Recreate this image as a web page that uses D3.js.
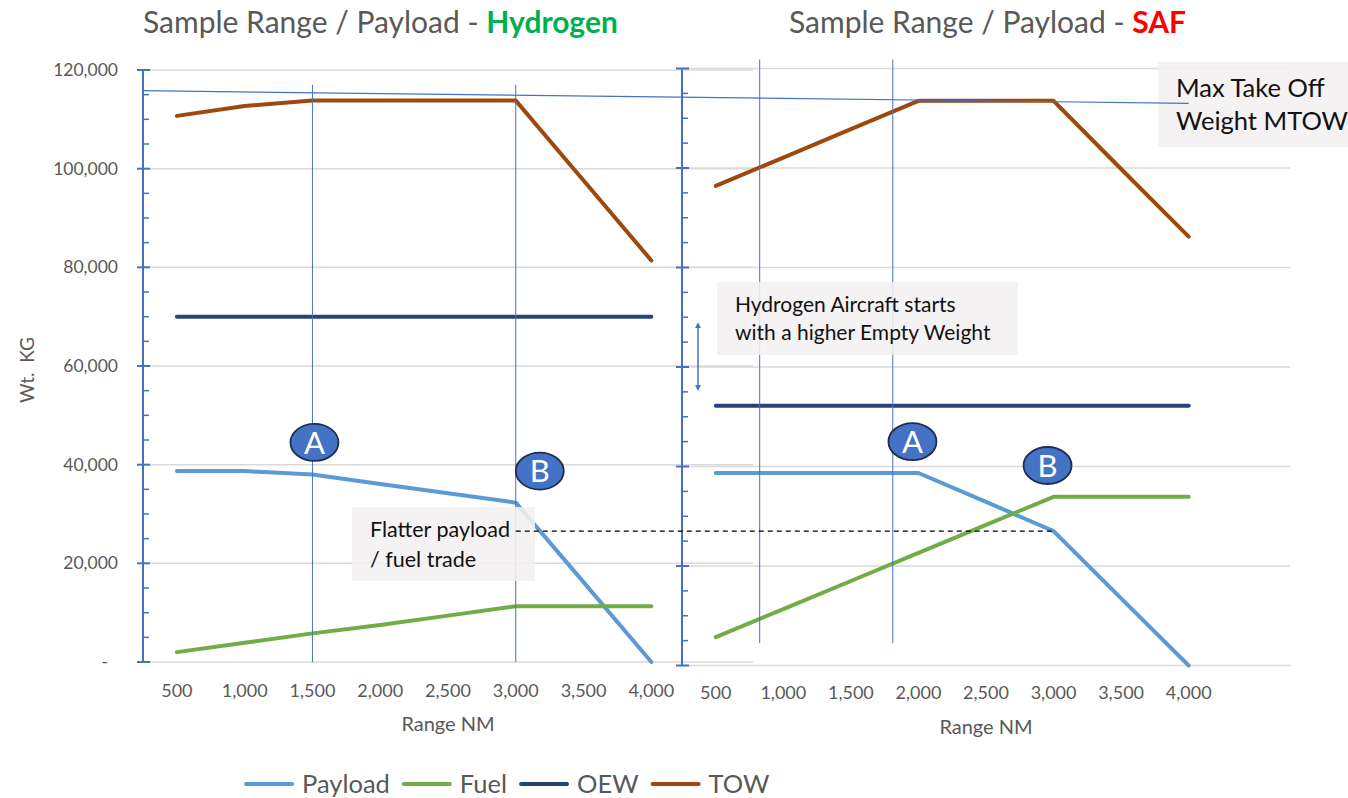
<!DOCTYPE html>
<html>
<head>
<meta charset="utf-8">
<script src="https://cdn.jsdelivr.net/npm/d3@7/dist/d3.min.js"></script>
<style>
  html,body{margin:0;padding:0;background:#fff;}
  svg{display:block;font-family:Lato,"Open Sans",sans-serif;}
</style>
</head>
<body>
<svg id="chart" width="1348" height="798"></svg>
<script>
// ---------- data ----------
const categories = [500, 1000, 1500, 2000, 2500, 3000, 3500, 4000];
const xTickLabels = ["500", "1,000", "1,500", "2,000", "2,500", "3,000", "3,500", "4,000"];
const yTickValues = [0, 20000, 40000, 60000, 80000, 100000, 120000];
const yTickLabels = ["-", "20,000", "40,000", "60,000", "80,000", "100,000", "120,000"];
const seriesNames = ["Payload", "Fuel", "OEW", "TOW"];
const seriesColors = ["#5b9bd5", "#70ad47", "#264478", "#9e480e"];

const h2Payload = [38700, 38700, 38000, 36100, 34200, 32300, 16200, 0];
const h2Fuel    = [2000, 3900, 5800, 7500, 9400, 11300, 11300, 11300];
const h2OEW     = [70000, 70000, 70000, 70000, 70000, 70000, 70000, 70000];
const h2TOW     = [110700, 112700, 113800, 113800, 113800, 113800, 97600, 81400];

const safPayload = [38700, 38700, 38700, 38700, 32900, 27000, 13500, 0];
const safFuel    = [5700, 11340, 16980, 22620, 28260, 33900, 33900, 33900];
const safOEW     = [52200, 52200, 52200, 52200, 52200, 52200, 52200, 52200];
const safTOW     = [96400, 102100, 107800, 113500, 113500, 113500, 99800, 86200];

// annotation values (data space)
const h2Markers = [1500, 3000];          // vertical lines A / B (left)
const safMarkerIdx = [0.65, 2.62];        // vertical lines (right), fractional category index
const mtowStart = 115800, mtowEnd = 113000;
const flatterValue = 27000;

// ---------- layout ----------
const svg = d3.select("#chart");
const slots = categories.concat(["_"]); // 9th empty slot as in the original

function makePanel(x0, x1, y0, yTop) {
  const x = d3.scalePoint().domain(slots).range([x0, x1]).padding(0.5);
  const y = d3.scaleLinear().domain([0, 120000]).range([y0, yTop]);
  return {x, y, x0, x1};
}
const L = makePanel(143, 753, 662, 70);
const R = makePanel(682, 1290, 665.5, 68.5);

const gridColor = "#d9d9d9";
const axisBlue = "#4472c4";
const textGray = "#595959";

function drawGrid(P) {
  const g = svg.append("g");
  g.selectAll("line").data(yTickValues).join("line")
    .attr("x1", P.x0).attr("x2", P.x1)
    .attr("y1", d => P.y(d)).attr("y2", d => P.y(d))
    .attr("stroke", gridColor).attr("stroke-width", 1.5);
}
function drawYAxis(P, labels) {
  const g = svg.append("g");
  g.append("line").attr("x1", P.x0).attr("x2", P.x0)
    .attr("y1", P.y(0)).attr("y2", P.y(120000))
    .attr("stroke", axisBlue).attr("stroke-width", 2);
  const minor = d3.range(0, 120001, 5000).filter(v => v % 20000 !== 0);
  g.selectAll(".mn").data(minor).join("line")
    .attr("x1", P.x0).attr("x2", P.x0 + 6)
    .attr("y1", d => P.y(d)).attr("y2", d => P.y(d))
    .attr("stroke", axisBlue).attr("stroke-width", 1.5);
  g.selectAll(".mj").data(yTickValues).join("line")
    .attr("x1", P.x0 - 6).attr("x2", P.x0 + 7)
    .attr("y1", d => P.y(d)).attr("y2", d => P.y(d))
    .attr("stroke", axisBlue).attr("stroke-width", 2);
  if (labels) {
    g.selectAll("text").data(yTickValues).join("text")
      .attr("x", (d, i) => i === 0 ? 108 : 118)
      .attr("y", d => P.y(d)).attr("dy", "0.35em")
      .attr("text-anchor", "end").attr("fill", textGray)
      .attr("font-size", 17.5).text((d, i) => yTickLabels[i]);
  }
}
function drawXAxis(P, titleX, titleY, labelY) {
  const g = svg.append("g");
  g.selectAll("text").data(categories).join("text")
    .attr("x", d => P.x(d)).attr("y", labelY)
    .attr("text-anchor", "middle").attr("fill", textGray)
    .attr("font-size", 18).text((d, i) => xTickLabels[i]);
  g.append("text").attr("x", titleX).attr("y", titleY)
    .attr("text-anchor", "middle").attr("fill", textGray)
    .attr("font-size", 20).text("Range NM");
}
function drawSeries(P, data) {
  const line = d3.line().x((d, i) => P.x(categories[i])).y(d => P.y(d));
  data.forEach((s, k) => {
    svg.append("path").attr("d", line(s)).attr("fill", "none")
      .attr("stroke", seriesColors[k]).attr("stroke-width", 4)
      .attr("stroke-linecap", "round").attr("stroke-linejoin", "round");
  });
}
function fracX(P, idx) {
  const a = P.x(categories[Math.floor(idx)]), b = P.x(categories[Math.floor(idx) + 1]);
  return a + (b - a) * (idx - Math.floor(idx));
}

// grids
drawGrid(L);
drawGrid(R);
drawYAxis(L, true);
drawYAxis(R, false);
drawXAxis(L, 448, 731, 697);
drawXAxis(R, 986, 734, 699);

// series
drawSeries(L, [h2Payload, h2Fuel, h2OEW, h2TOW]);
drawSeries(R, [safPayload, safFuel, safOEW, safTOW]);

// vertical marker lines
h2Markers.forEach(v => {
  svg.append("line").attr("x1", L.x(v)).attr("x2", L.x(v))
    .attr("y1", L.y(117000)).attr("y2", L.y(0))
    .attr("stroke", axisBlue).attr("stroke-width", 1);
});
safMarkerIdx.forEach(idx => {
  const xx = fracX(R, idx);
  svg.append("line").attr("x1", xx).attr("x2", xx)
    .attr("y1", R.y(121800)).attr("y2", R.y(4500))
    .attr("stroke", axisBlue).attr("stroke-width", 1);
});

// text boxes
function box(x, y, w, h, lines, fs, lh, tx, ty) {
  svg.append("rect").attr("x", x).attr("y", y).attr("width", w).attr("height", h)
    .attr("fill", "#f2f0f0").attr("fill-opacity", 0.88);
  const t = svg.append("text").attr("font-size", fs).attr("fill", "#111");
  lines.forEach((s, i) => t.append("tspan").attr("x", tx).attr("y", ty + i * lh).text(s));
}
box(352, 507, 183, 74, ["Flatter payload", "/ fuel trade"], 21.5, 29.5, 370, 537);
box(717, 282, 301, 73, ["Hydrogen Aircraft starts", "with a higher Empty Weight"], 21, 28, 735, 312);
box(1158, 62, 190, 85, ["Max Take Off", "Weight MTOW"], 25.5, 33, 1176, 97);

// dashed flatter line
svg.append("line").attr("x1", L.x(3000)).attr("x2", R.x(3000))
  .attr("y1", R.y(flatterValue)).attr("y2", R.y(flatterValue))
  .attr("stroke", "#000").attr("stroke-width", 1.3).attr("stroke-dasharray", "5,4");

// MTOW line
svg.append("line").attr("x1", L.x0).attr("y1", L.y(mtowStart))
  .attr("x2", R.x(4000)).attr("y2", R.y(mtowEnd))
  .attr("stroke", axisBlue).attr("stroke-width", 1.2);

// double arrow
const defs = svg.append("defs");
defs.append("marker").attr("id", "ah").attr("viewBox", "0 0 10 10")
  .attr("refX", 5).attr("refY", 5).attr("markerWidth", 4).attr("markerHeight", 4)
  .attr("orient", "auto-start-reverse")
  .append("path").attr("d", "M0,0 L10,5 L0,10 z").attr("fill", axisBlue);
svg.append("line").attr("x1", 698).attr("x2", 698)
  .attr("y1", R.y(70000) + 8).attr("y2", R.y(55000) - 4)
  .attr("stroke", axisBlue).attr("stroke-width", 1.5)
  .attr("marker-start", "url(#ah)").attr("marker-end", "url(#ah)");

// A/B bubbles
function bubble(cx, cy, letter) {
  svg.append("ellipse").attr("cx", cx).attr("cy", cy).attr("rx", 24).attr("ry", 18.5)
    .attr("fill", "#4472c4").attr("stroke", "#1f2d4f").attr("stroke-width", 1.8);
  svg.append("text").attr("x", cx).attr("y", cy).attr("dy", "0.36em")
    .attr("text-anchor", "middle").attr("fill", "#fff").attr("font-size", 31).text(letter);
}
bubble(L.x(1500) + 2, L.y(44500), "A");
bubble(L.x(3000) + 24, L.y(38700), "B");
bubble(R.x(2000) - 6, R.y(45000), "A");
bubble(R.x(3000) - 6, R.y(40200), "B");

// titles
function title(x, y, colored, color) {
  const t = svg.append("text").attr("x", x).attr("y", y).attr("font-size", 30).attr("fill", textGray);
  t.append("tspan").text("Sample Range / Payload - ");
  t.append("tspan").attr("fill", color).attr("font-weight", "bold").text(colored);
}
title(143, 33, "Hydrogen", "#00b050");
title(789, 33, "SAF", "#ff0000");

// y axis title
svg.append("text").attr("transform", "translate(34,370) rotate(-90)")
  .attr("text-anchor", "middle").attr("fill", textGray).attr("font-size", 19)
  .attr("xml:space", "preserve").text("Wt.  KG");

// legend
const lg = svg.append("g");
let lx = 246;
seriesNames.forEach((n, i) => {
  lg.append("line").attr("x1", lx).attr("x2", lx + 46).attr("y1", 784).attr("y2", 784)
    .attr("stroke", seriesColors[i]).attr("stroke-width", 4).attr("stroke-linecap", "round");
  const t = lg.append("text").attr("x", lx + 56).attr("y", 784).attr("dy", "0.35em")
    .attr("font-size", 25.5).attr("fill", textGray).text(n);
  lx = lx + 56 + t.node().getComputedTextLength() + 14;
});
</script>
</body>
</html>
